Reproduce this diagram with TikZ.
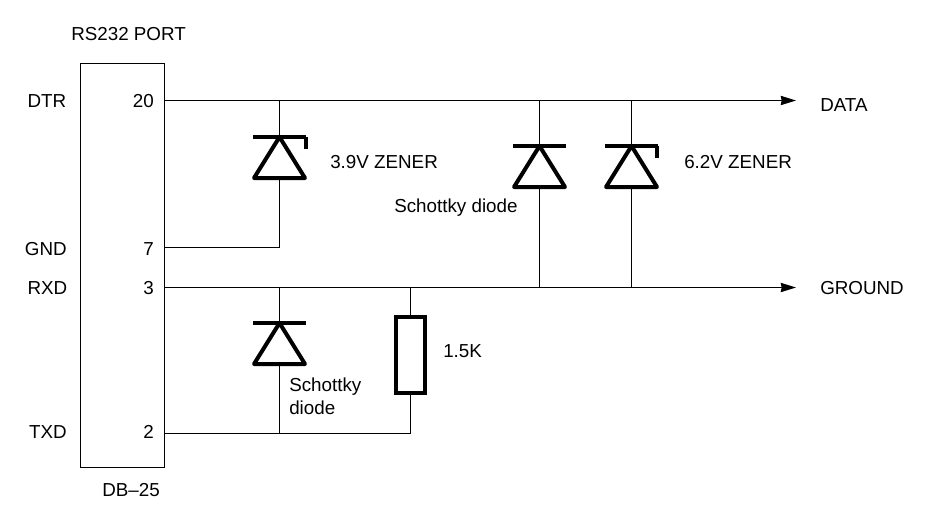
\documentclass[tikz,border=0pt]{standalone}
\usepackage{fontspec}
\setmainfont{Liberation Sans}
\usetikzlibrary{arrows.meta}
\tikzset{
  wire/.style={line width=0.75pt},
  flow/.style={wire,-{Stealth[length=11.5pt,width=7pt,inset=0.8pt]}},
  sym/.style={line width=3pt,line join=round},
  lbl/.style={inner sep=0,font=\fontsize{14.1pt}{16pt}\selectfont},
  lw/.style={lbl,anchor=base west},
  le/.style={lbl,anchor=base east}
}
\newcommand{\diodesym}[2]{%
  \draw[sym,fill=white] (#1-25.5,#2+41) -- (#1,#2) -- (#1+25.5,#2+41) -- cycle;
  \draw[sym] (#1-26.5,#2) -- (#1+26.5,#2);
}
\newcommand{\zenerhook}[2]{\draw[sym] (#1+26,#2) -- (#1+26,#2+12);}
\begin{document}
\begin{tikzpicture}[x=0.75pt,y=-0.75pt]
\useasboundingbox (0,0) rectangle (925,525);
\node[draw,line width=0.75pt,outer sep=0,minimum width=63pt,minimum height=303pt,inner sep=0,anchor=north west] (port) at (80.5,63.5) {};
\coordinate (p20) at (164.5,100.5);
\coordinate (p7) at (164.5,247.5);
\coordinate (p3) at (164.5,287.5);
\coordinate (p2) at (164.5,433.5);
\coordinate (data) at (796,100.5);
\coordinate (ground) at (796,287.5);
\coordinate (z1t) at (279.5,100.5);
\coordinate (z1b) at (279.5,247.5);
\coordinate (s1t) at (539.5,100.5);
\coordinate (s1b) at (539.5,287.5);
\coordinate (z2t) at (631.5,100.5);
\coordinate (z2b) at (631.5,287.5);
\coordinate (s2t) at (279.5,287.5);
\coordinate (s2b) at (279.5,433.5);
\coordinate (rt) at (410.5,287.5);
\coordinate (rb) at (410.5,433.5);
\draw[flow] (p20) -- (data);
\draw[flow] (p3) -- (ground);
\draw[wire] (p7) -- (z1b) -- (z1t);
\draw[wire] (s1t) -- (s1b);
\draw[wire] (z2t) -- (z2b);
\draw[wire] (s2t) -- (s2b);
\draw[wire] (p2) -- (rb) -- (rt);
\diodesym{279.5}{137}\zenerhook{279.5}{137}
\diodesym{539.5}{146}
\diodesym{631.5}{146}\zenerhook{630.5}{146}
\diodesym{279.5}{323}
\node[draw,fill=white,line width=3pt,minimum width=21.75pt,minimum height=57pt,inner sep=0] (res) at (410.7,355) {};
\node[lw] (t1) at (71,40) {RS232 PORT};
\node[le] (t2) at (66.5,107.7) {DTR};
\node[le] (t3) at (67,255) {GND};
\node[le] (t4) at (67.5,294) {RXD};
\node[le] (t5) at (67,438) {TXD};
\node[le] (t6) at (154,107.7) {20};
\node[le] (t7) at (154,255) {7};
\node[le] (t8) at (154,294) {3};
\node[le] (t9) at (154,438) {2};
\node[lw] (t10) at (102,496) {DB–25};
\node[lw] (t11) at (820,111) {DATA};
\node[lw] (t12) at (820,294) {GROUND};
\node[lw] (t13) at (330,168) {3.9V ZENER};
\node[lw] (t14) at (684,168) {6.2V ZENER};
\node[lw] (t15) at (394,212) {Schottky diode};
\node[lw] (t16) at (289,391) {Schottky};
\node[lw] (t17) at (289,414) {diode};
\node[lw] (t18) at (443,357) {1.5K};
\end{tikzpicture}
\end{document}
